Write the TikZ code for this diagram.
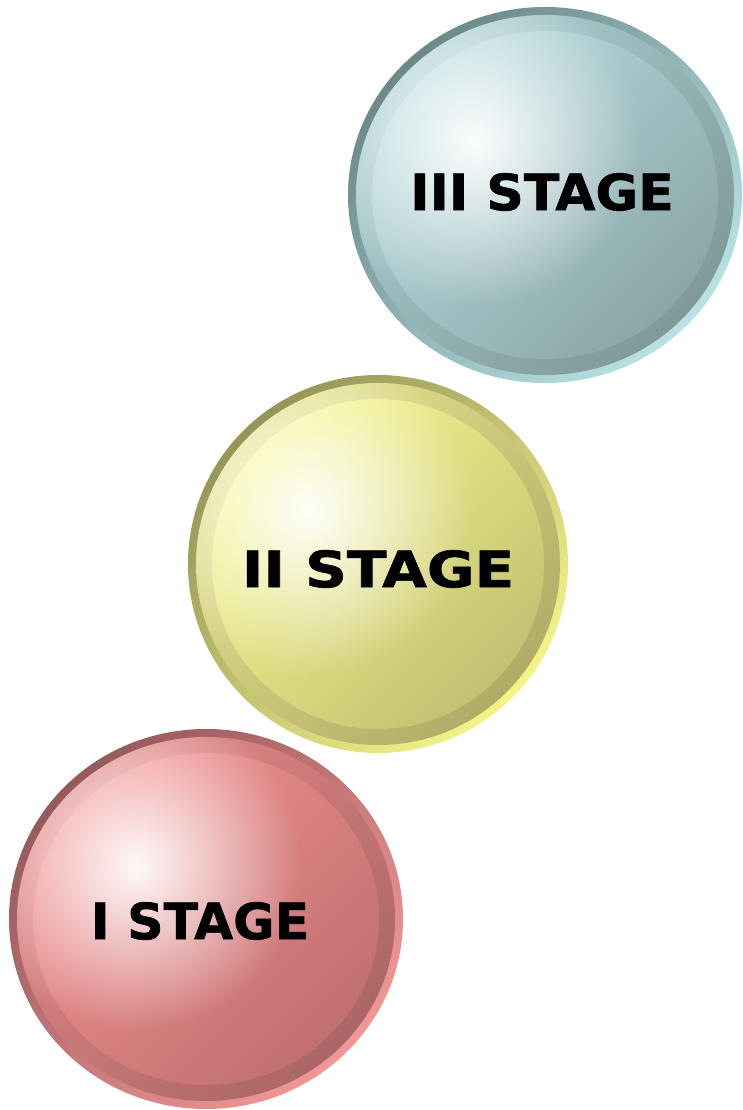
\documentclass[tikz,border=0pt]{standalone}
\usepackage{fontspec}
\setmainfont{DejaVu Sans}
\newfontfamily\stagefont[FakeBold=1.2]{DejaVu Sans Bold}
\usepackage{xcolor}
\usetikzlibrary{calc}
\usetikzlibrary{backgrounds}
\usetikzlibrary{fadings}

% colours of the three balls: border, ring, body
\definecolor{redBd}{HTML}{965A5A}
\definecolor{redBl}{HTML}{F29696}
\definecolor{redRt}{HTML}{E48888}
\definecolor{redRb}{HTML}{AA6666}
\definecolor{redCt}{HTML}{F29090}
\definecolor{redCb}{HTML}{C07070}
\definecolor{yelBd}{HTML}{959558}
\definecolor{yelBl}{HTML}{F4F48A}
\definecolor{yelRt}{HTML}{E4E28C}
\definecolor{yelRb}{HTML}{B0AC68}
\definecolor{yelCt}{HTML}{F6F68E}
\definecolor{yelCb}{HTML}{C4C072}
\definecolor{tealBd}{HTML}{6C8888}
\definecolor{tealBl}{HTML}{B8E2E4}
\definecolor{tealRt}{HTML}{AACED2}
\definecolor{tealRb}{HTML}{809898}
\definecolor{tealCt}{HTML}{B6DADE}
\definecolor{tealCb}{HTML}{8CA6A8}

\tikzfading[name=glowfade, inner color=transparent!5, outer color=transparent!100]

% #1 centre, #2 x radius, #3 y radius, #4 colour prefix
\newcommand{\stageball}[4]{%
	\shade[top color=#4Bd, bottom color=#4Bl, shading angle=45] (#1) ellipse [x radius=#2, y radius=#3];
	\shade[top color=#4Rt, bottom color=#4Rb, shading angle=45] (#1) ellipse [x radius=#2-8, y radius=#3-8];
	\shade[top color=#4Ct, bottom color=#4Cb, shading angle=45] (#1) ellipse [x radius=#2-24, y radius=#3-24];
	\begin{scope}
		\clip (#1) ellipse [x radius=#2-8, y radius=#3-8];
		\fill[white, path fading=glowfade] ($(#1)+(-70,54)$) circle [radius=165];
	\end{scope}
}

\begin{document}
\begin{tikzpicture}[x=1pt, y=1pt]
\tikzstyle{stage}=[font=\stagefont\fontsize{50}{58}\selectfont, text=black, inner sep=0pt, transform shape]

\useasboundingbox (0,0) rectangle (742,1110);

\coordinate (c3) at (545,915);
\coordinate (c2) at (378,546);
\coordinate (c1) at (206,191);

\node[stage, xscale=1.04] (st3) at ($(c3)+(-3,3)$) {III STAGE};
\node[stage, xscale=1.16] (st2) at ($(c2)+(0,-5)$) {II STAGE};
\node[stage, xscale=1.01] (st1) at ($(c1)+(-6,-2)$) {I STAGE};

\begin{scope}[on background layer]
	\stageball{c3}{197}{188}{teal}
	\stageball{c2}{190}{189}{yel}
	\stageball{c1}{197}{190}{red}
\end{scope}
\end{tikzpicture}
\end{document}
